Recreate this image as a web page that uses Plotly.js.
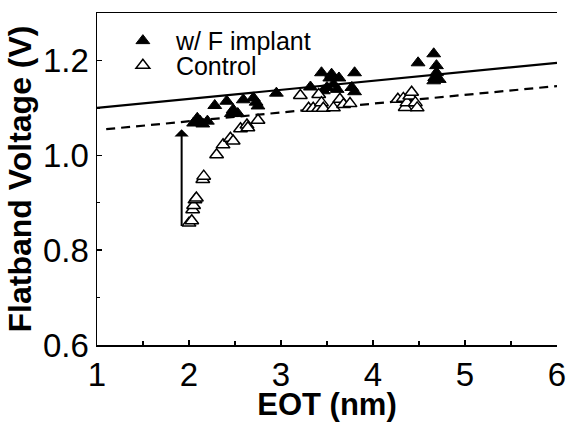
<!DOCTYPE html>
<html>
<head>
<meta charset="utf-8">
<script src="https://cdn.plot.ly/plotly-3.0.1.min.js"></script>
<style>html,body{margin:0;padding:0;background:#fff;}#chart{width:569px;height:422px;}</style>
</head>
<body>
<div id="chart"></div>
<script>
// Data
const implantEOT = [2.05,2.09,2.12,2.15,2.20,2.28,2.41,2.46,2.48,2.53,2.59,2.70,2.73,2.75,2.95,3.32,3.44,3.46,3.50,3.53,3.55,3.57,3.61,3.63,3.77,3.80,3.80,4.49,4.66,4.69,4.69,4.67,4.66,4.72];
const implantVfb = [1.068,1.078,1.072,1.066,1.072,1.105,1.114,1.088,1.096,1.088,1.117,1.121,1.112,1.104,1.131,1.144,1.174,1.136,1.143,1.163,1.171,1.150,1.139,1.163,1.143,1.174,1.134,1.195,1.214,1.189,1.174,1.164,1.157,1.160];
const controlEOT = [2.00,2.03,2.04,2.05,2.065,2.08,2.15,2.16,2.30,2.37,2.45,2.48,2.56,2.63,2.64,2.75,3.21,3.30,3.35,3.41,3.41,3.44,3.46,3.57,3.64,3.68,3.75,4.27,4.33,4.35,4.37,4.40,4.42,4.46,4.48];
const controlVfb = [0.857,0.862,0.885,0.894,0.906,0.910,0.949,0.956,1.001,1.022,1.036,1.030,1.056,1.064,1.058,1.074,1.126,1.099,1.099,1.128,1.099,1.111,1.099,1.100,1.118,1.107,1.109,1.118,1.120,1.101,1.111,1.125,1.133,1.111,1.100];
const implantFitEOT = [1, 6];
const implantFitVfb = [1.100, 1.195];
const controlFitEOT = [1.1, 6];
const controlFitVfb = [1.055, 1.146];
const arrowEOT = 1.92;
const arrowFrom = 0.848;
const arrowTo = 1.055;
const seriesNames = ["w/ F implant", "Control"];
const xTickVals = [1,2,3,4,5,6];
const yTickVals = [0.6,0.8,1.0,1.2];

const FONT = "Liberation Sans, Arial, Helvetica, sans-serif";

const traces = [
  {x: implantFitEOT, y: implantFitVfb, mode: "lines", line: {color: "#000", width: 2.2}, showlegend: false, hoverinfo: "skip"},
  {x: controlFitEOT, y: controlFitVfb, mode: "lines", line: {color: "#000", width: 2.2, dash: "9px,6px"}, showlegend: false, hoverinfo: "skip"},
  {x: implantEOT, y: implantVfb, mode: "markers", name: seriesNames[0], legend: "legend",
   marker: {symbol: "triangle-up", size: 12, color: "#000", line: {color: "#000", width: 1}}},
  {x: controlEOT, y: controlVfb, mode: "markers", name: seriesNames[1], legend: "legend2",
   marker: {symbol: "triangle-up", size: 12, color: "#fff", line: {color: "#000", width: 1.5}}}
];

const legendCommon = {xanchor: "left", yanchor: "middle", bgcolor: "rgba(0,0,0,0)", itemwidth: 56,
  font: {family: FONT, size: 25, color: "#000"}};

const layout = {
  width: 569, height: 422,
  margin: {l: 97, r: 12, t: 13, b: 77},
  paper_bgcolor: "#fff", plot_bgcolor: "#fff",
  font: {family: FONT, color: "#000", size: 32},
  showlegend: true,
  legend: Object.assign({x: 0.028, y: 0.916}, legendCommon),
  legend2: Object.assign({x: 0.028, y: 0.842}, legendCommon),
  xaxis: {
    range: [1, 6], tickmode: "array", tickvals: xTickVals, ticktext: xTickVals.map(String),
    ticks: "inside", ticklen: 5, tickwidth: 1.5, tickcolor: "#000",
    minor: {dtick: 0.5, ticks: "inside", ticklen: 4, tickwidth: 1.5, tickcolor: "#000"},
    showline: true, linecolor: "#000", linewidth: 1.5, mirror: true,
    showgrid: false, zeroline: false,
    tickfont: {family: FONT, size: 33, color: "#000"},
    title: {text: "<b>EOT (nm)</b>", font: {family: FONT, size: 31, color: "#000"}, standoff: 0}
  },
  yaxis: {
    range: [0.6, 1.3], tickmode: "array", tickvals: yTickVals, ticktext: yTickVals.map(v => v.toFixed(1)),
    ticks: "inside", ticklen: 5, tickwidth: 1.5, tickcolor: "#000",
    minor: {dtick: 0.1, ticks: "inside", ticklen: 3, tickwidth: 1.5, tickcolor: "#000"},
    showline: true, linecolor: "#000", linewidth: 1.5,
    showgrid: false, zeroline: false,
    tickfont: {family: FONT, size: 33, color: "#000"},
    title: {text: "<b>Flatband Voltage (V)</b>", font: {family: FONT, size: 32, color: "#000"}, standoff: 2}
  },
  annotations: [{
    x: arrowEOT, y: arrowTo, ax: arrowEOT, ay: arrowFrom, xref: "x", yref: "y", axref: "x", ayref: "y",
    text: "", showarrow: true, arrowhead: 1, arrowsize: 1.2, arrowwidth: 2, arrowcolor: "#000"
  }]
};

Plotly.newPlot("chart", traces, layout, {displayModeBar: false, staticPlot: true});
</script>
</body>
</html>
